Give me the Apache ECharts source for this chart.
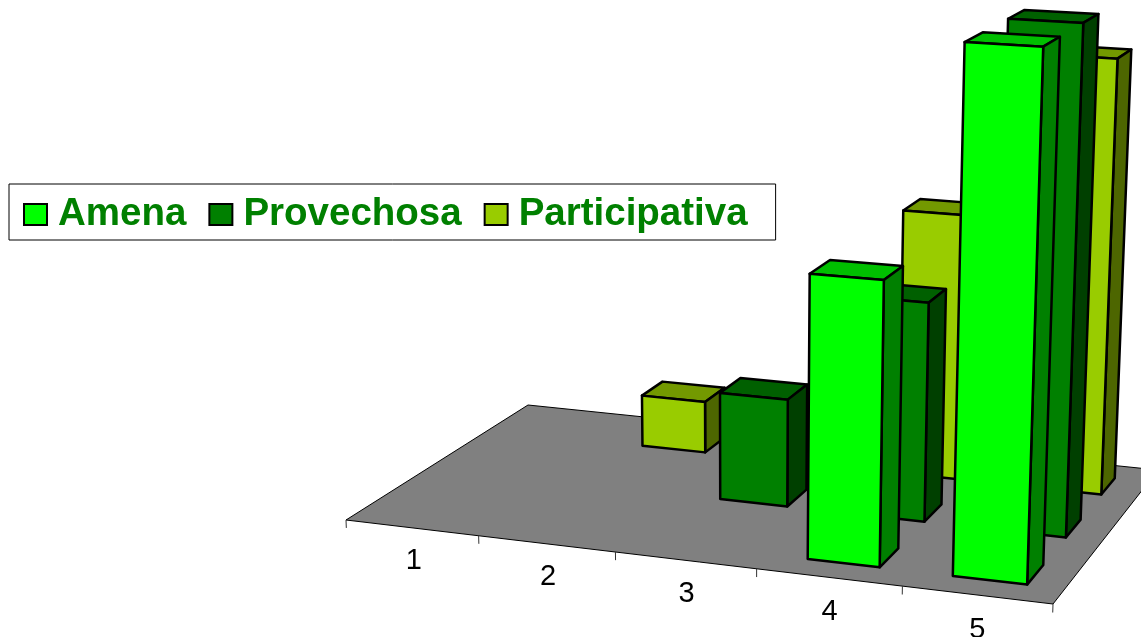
<!DOCTYPE html>
<html>
<head>
<meta charset="utf-8">
<title>Amena Provechosa Participativa</title>
<style>
	html, body { margin: 0; padding: 0; background: #fff; }
	#chart { width: 1141px; height: 637px; }
</style>
<script src="https://cdn.jsdelivr.net/npm/echarts@6/dist/echarts.min.js"></script>
</head>
<body>
<div id="chart"></div>
<script>
	var categories = ['1', '2', '3', '4', '5'];
	var amena = [0, 0, 0, 5, 9];
	var provechosa = [0, 0, 2, 4, 9];
	var participativa = [0, 1, 0, 5, 8];

	// frente, lateral, tapa
	var amenaColors = ['#00ff00', '#008000', '#00bf00'];
	var provechosaColors = ['#008000', '#004000', '#006000'];
	var participativaColors = ['#99cc00', '#4d6600', '#739900'];

	// perspectiva: esquinas del suelo (frente izq, frente der, fondo der, fondo izq) y punto de fuga vertical
	var floorCorners = [[346, 520], [1053, 604], [1158, 470], [528, 405]];
	var verticalVanish = [740, 10200];
	var verticalScale = 1 / 9750;
	var barWidth = 0.5;
	var barDepth = 0.135;

	var H = (function(p) {
		var dx1 = p[1][0] - p[2][0], dx2 = p[3][0] - p[2][0], sx = p[0][0] - p[1][0] + p[2][0] - p[3][0];
		var dy1 = p[1][1] - p[2][1], dy2 = p[3][1] - p[2][1], sy = p[0][1] - p[1][1] + p[2][1] - p[3][1];
		var den = dx1 * dy2 - dx2 * dy1;
		var g = (sx * dy2 - dx2 * sy) / den;
		var h = (dx1 * sy - sx * dy1) / den;
		return {
			a: p[1][0] - p[0][0] + g * p[1][0],
			b: p[3][0] - p[0][0] + h * p[3][0],
			c: p[0][0],
			d: p[1][1] - p[0][1] + g * p[1][1],
			e: p[3][1] - p[0][1] + h * p[3][1],
			f: p[0][1],
			g: g,
			h: h
		};
	})(floorCorners);

	// u: a lo largo del eje de categorias (0-1), v: profundidad (0-1), w: altura en px del grid
	function project(u, v, w) {
		var t = verticalScale * w;
		var q = H.g * u + H.h * v + 1 - t;
		return [
			(H.a * u + H.b * v + H.c - t * verticalVanish[0]) / q,
			(H.d * u + H.e * v + H.f - t * verticalVanish[1]) / q
		];
	}

	function face(points, fill, width) {
		return {
			type: 'polygon',
			shape: { points: points },
			style: { fill: fill, stroke: '#000', lineWidth: width, lineJoin: 'round' }
		};
	}

	function barSeries(name, values, colors, row) {
		return {
			name: name,
			type: 'custom',
			itemStyle: { color: colors[0], borderColor: '#000', borderWidth: 2.5 },
			encode: { x: 0, y: 1 },
			data: values.map(function(v, i) { return [i, v]; }),
			renderItem: function(params, api) {
				var value = api.value(1);
				if (!value) {
					return;
				}
				var grid = params.coordSys;
				var top = api.coord([api.value(0), value]);
				var base = api.coord([api.value(0), 0]);
				var band = api.size([1, 0])[0];
				var u0 = (top[0] - grid.x - band * barWidth / 2) / grid.width;
				var u1 = (top[0] - grid.x + band * barWidth / 2) / grid.width;
				var v0 = (row + 0.5) / 3 - barDepth / 2;
				var v1 = (row + 0.5) / 3 + barDepth / 2;
				var w = base[1] - top[1];
				return {
					type: 'group',
					children: [
						face([project(u0, v0, w), project(u1, v0, w), project(u1, v1, w), project(u0, v1, w)], colors[2], 2.5),
						face([project(u1, v0, 0), project(u1, v1, 0), project(u1, v1, w), project(u1, v0, w)], colors[1], 2.5),
						face([project(u0, v0, 0), project(u1, v0, 0), project(u1, v0, w), project(u0, v0, w)], colors[0], 2.5)
					]
				};
			}
		};
	}

	var floorSeries = {
		name: 'suelo',
		type: 'custom',
		encode: { x: 0 },
		data: categories.map(function(c, i) { return [i]; }),
		renderItem: function(params, api) {
			var grid = params.coordSys;
			var band = api.size([1, 0])[0];
			var x = api.coord([api.value(0), 0])[0] - grid.x;
			var um = x / grid.width;
			var u1 = (x + band / 2) / grid.width;
			var children = [];
			if (params.dataIndex === 0) {
				children.push(face([project(0, 0, 0), project(1, 0, 0), project(1, 1, 0), project(0, 1, 0)], '#808080', 1));
				children.push({
					type: 'line',
					shape: { x1: project(0, 0, 0)[0], y1: project(0, 0, 0)[1], x2: project(0, 0, -8)[0], y2: project(0, 0, -8)[1] },
					style: { stroke: '#333', lineWidth: 1 }
				});
			}
			var t0 = project(u1, 0, 0);
			var t1 = project(u1, 0, -8);
			var label = project(um, 0, -33);
			children.push({
				type: 'line',
				shape: { x1: t0[0], y1: t0[1], x2: t1[0], y2: t1[1] },
				style: { stroke: '#333', lineWidth: 1 }
			});
			children.push({
				type: 'text',
				x: label[0] + 1,
				y: label[1],
				style: {
					text: categories[params.dataIndex],
					fill: '#000',
					font: '29px "Liberation Sans"',
					align: 'center',
					verticalAlign: 'middle'
				}
			});
			return { type: 'group', children: children };
		}
	};

	var myChart = echarts.init(document.getElementById('chart'));
	myChart.setOption({
		animation: false,
		backgroundColor: '#fff',
		grid: { left: 0, top: 40, width: 1000, height: 540 },
		xAxis: { type: 'category', data: categories, show: false },
		yAxis: { type: 'value', min: 0, max: 10, show: false },
		legend: {
			data: ['Amena', 'Provechosa', 'Participativa'],
			left: 9,
			top: 184,
			orient: 'horizontal',
			icon: 'rect',
			itemWidth: 23,
			itemHeight: 21,
			itemGap: 22,
			padding: [11, 28, 6, 14],
			backgroundColor: '#fff',
			borderColor: '#000',
			borderWidth: 1,
			borderRadius: 0,
			selectedMode: false,
			textStyle: {
				color: '#008000',
				fontFamily: 'Liberation Sans',
				fontWeight: 'bold',
				fontSize: 38.5,
				padding: [0, 0, 0, 6]
			}
		},
		series: [
			floorSeries,
			barSeries('Participativa', participativa, participativaColors, 2),
			barSeries('Provechosa', provechosa, provechosaColors, 1),
			barSeries('Amena', amena, amenaColors, 0)
		]
	});
</script>
</body>
</html>
